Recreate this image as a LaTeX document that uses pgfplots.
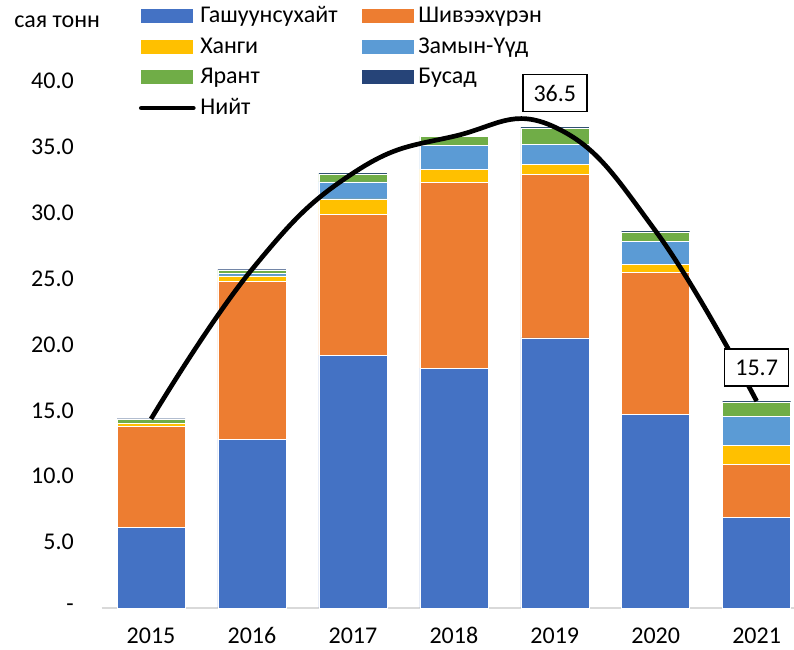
\documentclass[border=0pt]{standalone}
\usepackage{pgfplots}
\pgfplotsset{compat=1.18}
\usepackage{fontspec}
\setmainfont{Carlito}
\definecolor{cGa}{HTML}{4472C4}
\definecolor{cSh}{HTML}{ED7D31}
\definecolor{cKh}{HTML}{FFC000}
\definecolor{cZa}{HTML}{5B9BD5}
\definecolor{cYa}{HTML}{70AD47}
\definecolor{cBu}{HTML}{264478}
\definecolor{cAx}{HTML}{D9D9D9}
\newcommand{\bigf}{\fontsize{18}{21.6}\selectfont}
\pgfplotsset{
  barleg/.style={legend image code/.code={\fill[##1,draw=none] (0pt,-5.25pt) rectangle (39pt,5.25pt);}},
}
\begin{document}
\begin{tikzpicture}
\begin{axis}[
  at={(0,0)}, anchor=south west,
  scale only axis, width=519.3pt, height=395.25pt,
  ybar stacked, bar width=51pt,
  xmin=-0.49, xmax=6.37, ymin=0, ymax=40,
  xtick={0,1,2,3,4,5,6},
  xticklabels={2015,2016,2017,2018,2019,2020,2021},
  ytick={0,5,10,15,20,25,30,35,40},
  yticklabels={-,5.0,10.0,15.0,20.0,25.0,30.0,35.0,40.0},
  major tick length=0pt,
  axis x line*=bottom, axis y line*=left,
  y axis line style={draw=none},
  x axis line style={draw=cAx, line width=1.2pt},
  ticklabel style={font=\bigf},
  xticklabel style={inner sep=0pt, anchor=base, yshift=-27pt},
  yticklabel style={inner sep=0pt, anchor=east, xshift=-20.7pt},
  clip=false,
  legend columns=2,
  legend cell align=left,
  legend style={draw=none, fill=none, at={(axis description cs:0.054,1.1523)}, anchor=north west,
    inner sep=0pt, outer sep=0pt, font=\bigf,
    nodes={inner xsep=0pt, inner ysep=2.25pt, text height=14pt, text depth=4.5pt},
    row sep=0pt, column sep=3.5pt,
    /tikz/every even column/.append style={column sep=18pt}},
]
\addplot[fill=cGa, draw=white, line width=0.4pt, barleg] coordinates {(0,6.1) (1,12.8) (2,19.2) (3,18.2) (4,20.5) (5,14.7) (6,6.9)};
\addlegendentry{Гашуунсухайт}
\addplot[fill=cSh, draw=white, line width=0.4pt, barleg] coordinates {(0,7.7) (1,12.0) (2,10.7) (3,14.1) (4,12.4) (5,10.8) (6,4.0)};
\addlegendentry{Шивээхүрэн}
\addplot[fill=cKh, draw=white, line width=0.4pt, barleg] coordinates {(0,0.2) (1,0.4) (2,1.15) (3,1.0) (4,0.8) (5,0.6) (6,1.45)};
\addlegendentry{Ханги}
\addplot[fill=cZa, draw=white, line width=0.4pt, barleg] coordinates {(0,0.02) (1,0.2) (2,1.3) (3,1.8) (4,1.5) (5,1.7) (6,2.2)};
\addlegendentry{Замын-Үүд}
\addplot[fill=cYa, draw=white, line width=0.4pt, barleg] coordinates {(0,0.3) (1,0.25) (2,0.6) (3,0.7) (4,1.25) (5,0.75) (6,1.1)};
\addlegendentry{Ярант}
\addplot[fill=cBu, draw=none, barleg] coordinates {(0,0.05) (1,0.05) (2,0.05) (3,0.0) (4,0.05) (5,0.05) (6,0.05)};
\addlegendentry{Бусад}
\addlegendimage{legend image code/.code={\draw[black, line width=3.5pt, line cap=round] (0pt,0pt) -- (39pt,0pt);}}
\addlegendentry{Нийт}
\end{axis}
\begin{axis}[
  at={(0,0)}, anchor=south west,
  scale only axis, width=519.3pt, height=395.25pt,
  xmin=-0.49, xmax=6.37, ymin=0, ymax=40,
  axis lines=none, clip=false,
]
\addplot[black, line width=3.5pt, smooth, tension=0.75, no markers] coordinates {(0,14.35) (1,25.7) (2,33.0) (3,35.8) (4,36.5) (5,28.6) (6,15.7)};
\node[draw=black, line width=1.1pt, fill=white, minimum width=48pt, minimum height=27.75pt, inner sep=0pt, font=\bigf, yshift=25.5pt] at (axis cs:4,36.5) {36.5};
\node[draw=black, line width=1.1pt, fill=white, minimum width=48pt, minimum height=27.75pt, inner sep=0pt, font=\bigf, yshift=25.3pt] at (axis cs:6,15.7) {15.7};
\end{axis}
\node[anchor=west, inner sep=0pt, font=\bigf] at (-65.7pt,439.5pt) {сая тонн};
\pgfresetboundingbox
\path[use as bounding box] (-76.2pt,-31.5pt) rectangle (519.3pt,456pt);
\end{tikzpicture}
\end{document}
